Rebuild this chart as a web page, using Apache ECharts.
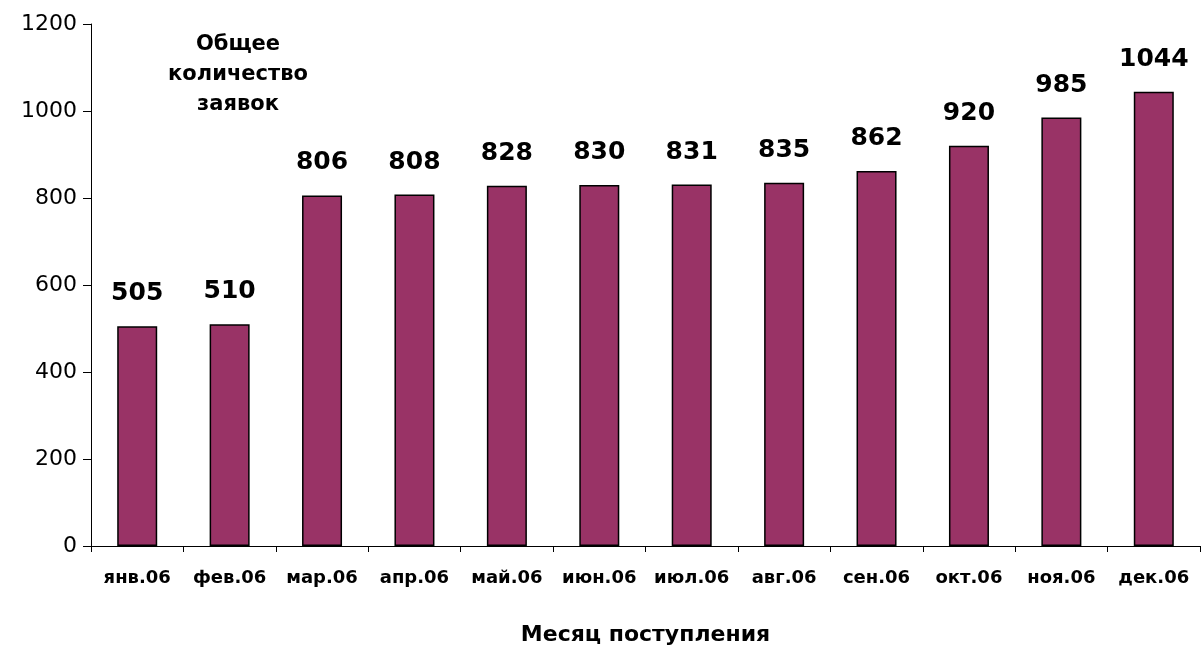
<!DOCTYPE html>
<html>
<head>
<meta charset="utf-8">
<script src="https://cdn.jsdelivr.net/npm/echarts@6/dist/echarts.min.js"></script>
<style>
html,body{margin:0;padding:0;background:#fff;}
#chart{width:1203px;height:646px;}
</style>
</head>
<body>
<div id="chart"></div>
<script>
const categories = ['янв.06','фев.06','мар.06','апр.06','май.06','июн.06','июл.06','авг.06','сен.06','окт.06','ноя.06','дек.06'];
const values = [505, 510, 806, 808, 828, 830, 831, 835, 862, 920, 985, 1044];
const yTicks = [0, 200, 400, 600, 800, 1000, 1200];
const titleText = 'Общее\nколичество\nзаявок';
const xAxisName = 'Месяц поступления';

const font = "'DejaVu Sans', Verdana, sans-serif";
const chart = echarts.init(document.getElementById('chart'));
chart.setOption({
  animation: false,
  backgroundColor: '#ffffff',
  title: {
    text: titleText,
    left: 233,
    top: 25,
    textAlign: 'center',
    textStyle: {fontFamily: font, fontWeight: 'bold', fontSize: 21, lineHeight: 30, color: '#000'}
  },
  grid: {left: 91, right: 3, top: 24, bottom: 100, outerBoundsMode: 'none', containLabel: false},
  xAxis: {
    type: 'category',
    data: categories,
    name: xAxisName,
    nameLocation: 'middle',
    nameGap: 78,
    nameTextStyle: {fontFamily: font, fontWeight: 'bold', fontSize: 22, color: '#000'},
    axisLine: {lineStyle: {color: '#000', width: 1}},
    axisTick: {show: true, interval: 0, length: 6, lineStyle: {color: '#000'}},
    axisLabel: {interval: 0, fontFamily: font, fontWeight: 'bold', fontSize: 18, color: '#000', margin: 23}
  },
  yAxis: {
    type: 'value',
    min: yTicks[0],
    max: yTicks[yTicks.length - 1],
    interval: 200,
    axisLine: {show: true, lineStyle: {color: '#000', width: 1}},
    axisTick: {show: true, length: 8, lineStyle: {color: '#000'}},
    splitLine: {show: false},
    axisLabel: {fontFamily: font, fontSize: 22, color: '#000', margin: 14, formatter: function (v) { return String(v); }}
  },
  series: [{
    type: 'bar',
    data: values,
    barWidth: 40,
    itemStyle: {color: '#993366', borderColor: '#000', borderWidth: 1.5},
    label: {
      show: true,
      position: 'top',
      distance: 20,
      fontFamily: font,
      fontWeight: 'bold',
      fontSize: 25,
      color: '#000'
    }
  }]
});
</script>
</body>
</html>
